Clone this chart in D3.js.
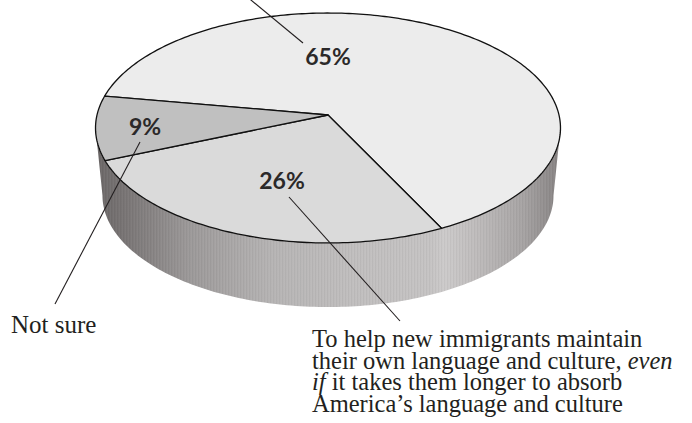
<!DOCTYPE html>
<html>
<head>
<meta charset="utf-8">
<script src="https://cdn.jsdelivr.net/npm/d3@7"></script>
<style>
  html, body { margin: 0; padding: 0; background: #ffffff; }
  svg { display: block; }
</style>
</head>
<body>
<svg id="chart" width="692" height="423"></svg>
<script>
// ---- data ----
const categories = ["Absorb America's language and culture", "Maintain own language and culture", "Not sure"];
const shares = [65, 26, 9];
const shareLabels = ["65%", "26%", "9%"];
const sliceFills = ["#ececec", "#dadada", "#c0c0c0"];

// ---- layout ----
const W = 692, H = 423;
const deg = Math.PI / 180;
const startDeg = -80.2;             // where the first slice begins, clockwise from 12 o'clock
const disc = { cx: 328, cy: 115, a: 231, b: 113.5, k: 0.113 }; // perspective disc
const depth = { vx: 328, vy: 2380, s: 0.97 };                   // side wall: vanishing point + scale

// perspective projection of a point (r, angle) on the top disc
function proj(r, t) {
  const u = r * Math.sin(t), v = -r * Math.cos(t);
  const w = 1 - disc.k * v;
  return [disc.cx + disc.a * u / w, disc.cy + disc.b * v / w];
}
// the matching point on the bottom rim
function projBottom(t) {
  const [x, y] = proj(1, t);
  return [depth.vx + depth.s * (x - depth.vx), depth.vy + depth.s * (y - depth.vy)];
}

const svg = d3.select("#chart");
const defs = svg.append("defs");

// side wall gradient, dark at the left edge, light near the front
const grad = defs.append("linearGradient")
  .attr("id", "sideGrad").attr("gradientUnits", "userSpaceOnUse")
  .attr("x1", 96).attr("x2", 561).attr("y1", 0).attr("y2", 0);
[[0, "#6b6767"], [0.07, "#7b7777"], [0.2, "#9c9999"], [0.38, "#b6b4b4"],
 [0.55, "#c0bebe"], [0.72, "#c5c3c3"], [0.75, "#cccaca"], [0.82, "#bebbbb"],
 [0.92, "#a6a3a3"], [1, "#858181"]]
  .forEach(([o, c]) => grad.append("stop").attr("offset", o).attr("stop-color", c));

// faint vertical striping on the side wall
const pat = defs.append("pattern").attr("id", "stripes")
  .attr("patternUnits", "userSpaceOnUse").attr("width", 3).attr("height", 10);
pat.append("rect").attr("x", 0).attr("width", 1).attr("height", 10).attr("fill", "rgba(0,0,0,0.035)");
pat.append("rect").attr("x", 2).attr("width", 1).attr("height", 10).attr("fill", "rgba(255,255,255,0.03)");

// ---- side wall (front half of the cylinder) ----
const tR = Math.acos(-disc.k), tL = 2 * Math.PI - Math.acos(-disc.k);
const N = 160;
const topFront = d3.range(N + 1).map(i => proj(1, tR + (tL - tR) * i / N));
const botFront = d3.range(N + 1).map(i => projBottom(tL - (tL - tR) * i / N));
const sidePts = topFront.concat(botFront);
const line = d3.line();
svg.append("path").attr("d", line(sidePts) + "Z").attr("fill", "url(#sideGrad)");
svg.append("path").attr("d", line(sidePts) + "Z").attr("fill", "url(#stripes)");

// ---- top slices ----
const pie = d3.pie().sort(null)
  .startAngle(startDeg * deg).endAngle(startDeg * deg + 2 * Math.PI);
const arcs = pie(shares);

arcs.forEach((d, i) => {
  const n = Math.max(8, Math.round((d.endAngle - d.startAngle) / deg));
  const pts = [proj(0, 0)].concat(
    d3.range(n + 1).map(j => proj(1, d.startAngle + (d.endAngle - d.startAngle) * j / n)));
  svg.append("path")
    .attr("d", line(pts) + "Z")
    .attr("fill", sliceFills[i])
    .attr("stroke", "#111")
    .attr("stroke-width", 1.3)
    .attr("stroke-linejoin", "round");
});

// ---- leader lines ----
const leaders = [
  [[248.5, -2], [303, 43]],
  [[289, 197], [400, 321]],
  [[140, 142], [55, 304]]
];
leaders.forEach(seg => {
  svg.append("line")
    .attr("x1", seg[0][0]).attr("y1", seg[0][1])
    .attr("x2", seg[1][0]).attr("y2", seg[1][1])
    .attr("stroke", "#231f20").attr("stroke-width", 1.1);
});

// ---- percentage labels on the slices ----
const labelSpots = [[328, 65], [282, 189], [145, 135]];
arcs.forEach((d, i) => {
  svg.append("text")
    .attr("x", labelSpots[i][0]).attr("y", labelSpots[i][1])
    .attr("text-anchor", "middle")
    .attr("font-family", "Lato, 'Open Sans', sans-serif")
    .attr("font-weight", 700)
    .attr("font-size", 23)
    .attr("fill", "#2b2929")
    .text(shareLabels[i]);
});

// ---- answer labels ----
const serif = "'Liberation Serif', 'DejaVu Serif', serif";
svg.append("text")
  .attr("x", 11).attr("y", 333)
  .attr("font-family", serif).attr("font-size", 25).attr("fill", "#231f20")
  .text("Not sure");

const noteLines = [
  [["To help new immigrants maintain", false]],
  [["their own language and culture, ", false], ["even", true]],
  [["if", true], [" it takes them longer to absorb", false]],
  [["America\u2019s language and culture", false]]
];
const note = svg.append("text")
  .attr("font-family", serif).attr("font-size", 24.5).attr("fill", "#231f20");
noteLines.forEach((parts, li) => {
  parts.forEach((p, pi) => {
    const ts = note.append("tspan").text(p[0]);
    if (pi === 0) ts.attr("x", 312).attr("y", 347 + li * 21.5);
    if (p[1]) ts.attr("font-style", "italic");
  });
});
</script>
</body>
</html>
